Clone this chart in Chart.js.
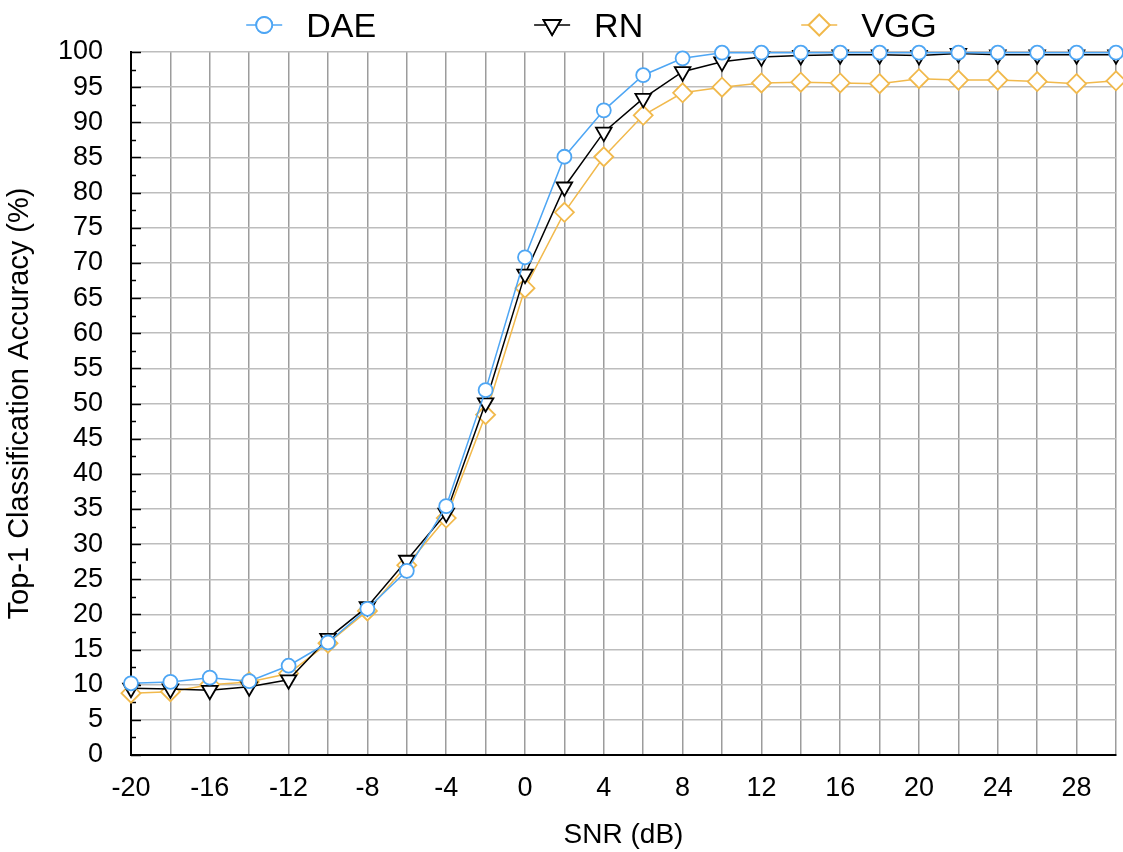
<!DOCTYPE html>
<html>
<head>
<meta charset="utf-8">
<script src="https://cdn.jsdelivr.net/npm/chart.js@4.4.1/dist/chart.umd.min.js"></script>
<style>
  html, body { margin: 0; padding: 0; background: #fff; }
  #wrap { width: 1123px; height: 852px; }
</style>
</head>
<body>
<div id="wrap"><canvas id="c" width="1123" height="852"></canvas></div>
<script>
const snr = [-20,-18,-16,-14,-12,-10,-8,-6,-4,-2,0,2,4,6,8,10,12,14,16,18,20,22,24,26,28,30];
const dae = [10.2,10.4,11.0,10.5,12.7,16.0,20.8,26.2,35.4,51.9,70.8,85.1,91.7,96.7,99.1,99.9,99.9,99.9,99.9,99.9,99.9,99.9,99.9,99.9,99.9,99.9];
const rn  = [9.5,9.4,9.2,9.7,10.7,16.6,21.1,27.7,34.4,50.1,68.4,80.8,88.6,93.4,97.2,98.6,99.3,99.5,99.6,99.6,99.5,99.8,99.6,99.6,99.6,99.6];
const vgg = [8.8,9.0,10.0,10.4,11.6,15.9,20.5,27.0,33.7,48.4,66.4,77.2,85.1,91.0,94.2,95.0,95.6,95.7,95.6,95.5,96.2,96.0,96.0,95.8,95.5,95.9];
const seriesNames = ['DAE', 'RN', 'VGG'];
const xTitle = 'SNR (dB)';
const yTitle = 'Top-1 Classification Accuracy (%)';

const BLUE = '#4ea6f4', BLACK = '#000000', ORANGE = '#f1b94c';
const FONT = "'Liberation Sans', Arial, Helvetica, sans-serif";
const RIGHT_MARGIN = 7;

function toXY(arr) { return arr.map((v, i) => ({x: snr[i], y: v})); }

const styles = [
  {color: BLUE, pointStyle: 'circle', radius: 7, rotation: 0},
  {color: BLACK, pointStyle: 'triangle', radius: 9, rotation: 180},
  {color: ORANGE, pointStyle: 'rectRot', radius: 9.5, rotation: 0}
];

const widenArea = {
  id: 'widenArea',
  afterLayout(chart) {
    const ca = chart.chartArea;
    ca.right = chart.width - RIGHT_MARGIN;
    ca.width = ca.right - ca.left;
    const xs = chart.scales.x;
    xs.right = ca.right;
    xs.width = xs.right - xs.left;
    xs.configure();
    xs._labelItems = null;
    xs._gridLineItems = null;
    const ys = chart.scales.y;
    ys._gridLineItems = null;
  }
};

const legendPlugin = {
  id: 'customLegend',
  afterDraw(chart) {
    const ctx = chart.ctx;
    const ca = chart.chartArea;
    ctx.save();
    ctx.font = '34px ' + FONT;
    ctx.textBaseline = 'middle';
    ctx.textAlign = 'left';
    const markerToText = 42, gap = 176, halfLine = 18;
    const widths = seriesNames.map(n => ctx.measureText(n).width);
    let total = halfLine;
    widths.forEach((w, i) => { total += markerToText + w + (i < widths.length - 1 ? gap : 0); });
    let x = (ca.left + ca.right) / 2 - 32 - total / 2 + halfLine;
    const y = 25;
    seriesNames.forEach((name, i) => {
      const s = styles[i];
      ctx.strokeStyle = s.color;
      ctx.lineWidth = 1.5;
      ctx.beginPath();
      ctx.moveTo(x - halfLine, y); ctx.lineTo(x + halfLine, y);
      ctx.stroke();
      ctx.fillStyle = '#fff';
      ctx.lineWidth = 1.8;
      Chart.helpers.drawPoint(ctx, {pointStyle: s.pointStyle, radius: s.radius + 1, rotation: s.rotation, borderWidth: 1.8}, x, y);
      ctx.fill(); ctx.stroke();
      ctx.fillStyle = '#000';
      ctx.fillText(name, x + markerToText, y + 3);
      x += markerToText + widths[i] + gap;
    });
    ctx.restore();
  }
};

const innerTicks = {
  id: 'innerTicks',
  beforeDatasetsDraw(chart) {
    const ctx = chart.ctx;
    const ys = chart.scales.y;
    const left = chart.chartArea.left;
    ctx.save();
    ctx.strokeStyle = '#000';
    ctx.lineWidth = 1.5;
    ys.ticks.forEach(t => {
      const py = Math.round(ys.getPixelForValue(t.value)) + 0.5;
      const major = Math.abs(t.value % 5) < 1e-6;
      ctx.beginPath();
      ctx.moveTo(left, py);
      ctx.lineTo(left + (major ? 10 : 5), py);
      ctx.stroke();
    });
    ctx.restore();
  }
};

const datasets = [dae, rn, vgg].map((arr, i) => ({
  label: seriesNames[i],
  data: toXY(arr),
  borderColor: styles[i].color,
  backgroundColor: '#ffffff',
  borderWidth: 1.5,
  pointStyle: styles[i].pointStyle,
  pointRadius: styles[i].radius,
  pointRotation: styles[i].rotation,
  pointBorderWidth: 1.8,
  pointBackgroundColor: '#ffffff',
  pointBorderColor: styles[i].color,
  tension: 0,
  fill: false,
  clip: false
}));

new Chart(document.getElementById('c'), {
  type: 'line',
  data: { datasets },
  options: {
    responsive: false,
    animation: false,
    devicePixelRatio: 1,
    layout: { padding: { top: 52, right: 7, left: 0, bottom: 0 } },
    plugins: { legend: { display: false }, tooltip: { enabled: false } },
    scales: {
      x: {
        type: 'linear',
        min: -20, max: 30,
        afterFit(s) { s.height = 97; s.paddingLeft = 0; s.paddingRight = 0; },
        ticks: {
          stepSize: 2, autoSkip: false, maxRotation: 0,
          color: '#000', padding: 17,
          font: { size: 27, family: FONT },
          callback: v => ((v + 20) % 4 === 0 && v < 30) ? String(v) : ''
        },
        grid: { color: '#9c9c9c', lineWidth: 1.5, drawTicks: false },
        border: { color: '#000', width: 2 },
        title: { display: true, text: xTitle, color: '#000', font: { size: 28, family: FONT }, padding: { top: 0, bottom: 0 } }
      },
      y: {
        min: 0, max: 100,
        afterFit(s) { s.width = 131; },
        ticks: {
          stepSize: 2.5, autoSkip: false,
          color: '#000', padding: 28,
          font: { size: 27, family: FONT },
          callback: v => (Math.abs(v % 5) < 1e-6) ? String(v) : ''
        },
        grid: {
          drawTicks: false, lineWidth: 1.5,
          color: c => (Math.abs(c.tick.value % 5) < 1e-6) ? '#bdbdbd' : 'rgba(0,0,0,0)'
        },
        border: { color: '#000', width: 2 },
        title: { display: true, text: yTitle, color: '#000', font: { size: 29, family: FONT }, padding: { top: 3, bottom: 0 } }
      }
    }
  },
  plugins: [widenArea, innerTicks, legendPlugin]
});
</script>
</body>
</html>
